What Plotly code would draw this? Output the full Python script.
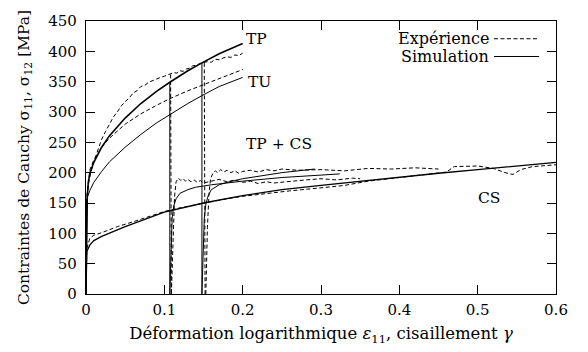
import plotly.graph_objects as go

# ---- tension (TP), uniaxial tension (TU), shear (CS) and tension+shear (TP+CS) ----
tp_exp_x = [0, 0.001, 0.003, 0.006, 0.01, 0.015, 0.02, 0.025, 0.03, 0.035, 0.04, 0.045,
            0.05, 0.055, 0.06, 0.065, 0.07, 0.075, 0.08, 0.085, 0.09, 0.095, 0.1, 0.104,
            0.108, 0.112, 0.116, 0.12, 0.124, 0.128, 0.132, 0.136, 0.14, 0.144, 0.148,
            0.155, 0.16, 0.165, 0.17, 0.175, 0.18, 0.185, 0.19, 0.195, 0.2]
tp_exp_y = [0, 150, 180, 200, 218, 238, 255, 268, 280, 292, 300, 310,
            317, 323, 331, 335, 342, 344, 349, 352, 354, 357, 359, 361,
            362, 365, 364, 368, 367, 371, 372, 376, 377, 379, 381,
            383, 382, 387, 386, 389, 391, 390, 394, 393, 397]

tp_sim_x = [0, 0.001, 0.003, 0.005, 0.01, 0.02, 0.03, 0.05, 0.07, 0.09, 0.107, 0.13,
            0.148, 0.17, 0.2]
tp_sim_y = [0, 150, 185, 199, 217, 242, 261, 290, 314, 334, 349, 368,
            381, 396, 413]

tu_exp_x = [0, 0.001, 0.005, 0.01, 0.02, 0.03, 0.05, 0.07, 0.09, 0.107, 0.13, 0.148,
            0.17, 0.2]
tu_exp_y = [0, 160, 205, 221, 242, 257, 280, 297, 311, 322, 335, 344,
            354, 370]

tu_sim_x = [0, 0.001, 0.002, 0.005, 0.01, 0.02, 0.03, 0.05, 0.07, 0.09, 0.107, 0.13,
            0.148, 0.17, 0.2]
tu_sim_y = [0, 145, 160, 171, 184, 202, 218, 242, 263, 282, 296, 314,
            327, 342, 357]

# unloading after the two tensile prestrains
unload_exp_x = [[0.108, 0.109], [0.151, 0.152]]
unload_exp_y = [[362, 0], [381, 0]]
unload_sim_x = [[0.107, 0.107], [0.148, 0.148]]
unload_sim_y = [[349, 0], [381, 0]]

# shear after prestrain (TP+CS)
tpcs1_exp_x = [0.109, 0.111, 0.113, 0.115, 0.118, 0.121, 0.124, 0.127, 0.13, 0.134, 0.138,
               0.142, 0.146, 0.15, 0.16, 0.17, 0.18, 0.19, 0.2, 0.21, 0.22, 0.23, 0.24,
               0.26, 0.28, 0.3, 0.32, 0.34, 0.35]
tpcs1_exp_y = [0, 100, 160, 185, 191, 187, 190, 186, 189, 185, 188,
               184, 187, 183, 186, 189, 185, 188, 184, 186, 182, 185, 183,
               186, 188, 190, 188, 191, 190]

tpcs2_exp_x = [0.153, 0.155, 0.157, 0.159, 0.162, 0.165, 0.168, 0.172, 0.176, 0.18, 0.185,
               0.19, 0.195, 0.2, 0.21, 0.22, 0.23, 0.24, 0.25, 0.27, 0.3, 0.33, 0.36,
               0.39, 0.42, 0.45]
tpcs2_exp_y = [0, 110, 165, 190, 199, 203, 200, 205, 201, 204, 200,
               203, 199, 202, 204, 201, 205, 203, 206, 204, 205, 203, 207,
               206, 208, 206]

tpcs1_sim_x = [0.107, 0.108, 0.109, 0.11, 0.112, 0.115, 0.12, 0.13, 0.14, 0.16, 0.2,
               0.25, 0.3, 0.324]
tpcs1_sim_y = [0, 60, 100, 125, 145, 157, 166, 172, 176, 180, 186,
               192, 196, 198]

tpcs2_sim_x = [0.148, 0.149, 0.15, 0.151, 0.153, 0.156, 0.16, 0.17, 0.18, 0.2, 0.25,
               0.292]
tpcs2_sim_y = [0, 60, 100, 125, 148, 162, 172, 180, 184, 190, 200,
               206]

# pure shear (CS)
cs_exp_x = [0, 0.001, 0.005, 0.01, 0.02, 0.04, 0.06, 0.08, 0.1, 0.12, 0.15, 0.18, 0.2,
            0.23, 0.26, 0.3, 0.33, 0.36, 0.4, 0.43, 0.46, 0.47, 0.5, 0.52, 0.535, 0.545,
            0.555, 0.57, 0.6]
cs_exp_y = [0, 75, 92, 97, 101, 111, 119, 128, 136, 142, 150, 157, 161,
            166, 170, 175, 179, 186, 192, 196, 201, 210, 211, 207, 200, 197,
            205, 210, 213]

cs_sim_x = [0, 0.001, 0.005, 0.01, 0.02, 0.05, 0.1, 0.15, 0.2, 0.25, 0.3, 0.35, 0.4,
            0.45, 0.5, 0.55, 0.6]
cs_sim_y = [0, 70, 81, 88, 95, 111, 135, 150, 162, 172, 179, 186, 192,
            199, 205, 211, 217]

# curve labels
label_text = ["TP", "TU", "TP + CS", "CS"]
label_x = [0.218, 0.221, 0.246, 0.515]
label_y = [420, 349, 248, 158]

x_ticks = [0, 0.1, 0.2, 0.3, 0.4, 0.5, 0.6]
x_tick_text = ["0", "0.1", "0.2", "0.3", "0.4", "0.5", "0.6"]
y_ticks = list(range(0, 451, 50))

FONT = "DejaVu Serif"
DASH = "4px,2.5px"

fig = go.Figure()


def add(x, y, dashed, width=1.0):
    fig.add_trace(go.Scatter(
        x=x, y=y, mode="lines", showlegend=False, hoverinfo="skip",
        line=dict(color="black", width=width, dash=DASH if dashed else "solid"),
    ))


add(cs_exp_x, cs_exp_y, True)
add(cs_sim_x, cs_sim_y, False, 1.3)
add(tpcs1_exp_x, tpcs1_exp_y, True)
add(tpcs2_exp_x, tpcs2_exp_y, True)
add(tpcs1_sim_x, tpcs1_sim_y, False)
add(tpcs2_sim_x, tpcs2_sim_y, False)
for ux, uy in zip(unload_exp_x, unload_exp_y):
    add(ux, uy, True)
for ux, uy in zip(unload_sim_x, unload_sim_y):
    add(ux, uy, False)
add(tu_exp_x, tu_exp_y, True)
add(tu_sim_x, tu_sim_y, False)
add(tp_exp_x, tp_exp_y, True)
add(tp_sim_x, tp_sim_y, False, 1.6)

for t, lx, ly in zip(label_text, label_x, label_y):
    fig.add_annotation(x=lx, y=ly, text=t, showarrow=False, xanchor="center",
                       yanchor="middle", font=dict(family=FONT, size=15.5, color="black"))

# legend block (text to the left of its line sample)
legend_rows = [("Expérience", True, 0.935), ("Simulation", False, 0.87)]
for name, dashed, yy in legend_rows:
    fig.add_annotation(x=0.861, y=yy, xref="paper", yref="paper", text=name,
                       showarrow=False, xanchor="right", yanchor="middle",
                       font=dict(family=FONT, size=16, color="black"))
    fig.add_shape(type="line", xref="paper", yref="paper", x0=0.868, x1=0.964,
                  y0=yy, y1=yy,
                  line=dict(color="black", width=1, dash=DASH if dashed else "solid"))

axis_common = dict(
    showgrid=False, zeroline=False, showline=True, linecolor="black", linewidth=1.4,
    mirror="ticks", ticks="inside", ticklen=9, tickwidth=1, tickcolor="black",
    tickfont=dict(family=FONT, size=15, color="black"),
)

fig.update_xaxes(range=[0, 0.6], tickvals=x_ticks, ticktext=x_tick_text,
                 ticklabelstandoff=2,
                 title=dict(text="Déformation logarithmique <i>ε</i><sub>11</sub>, cisaillement <i>γ</i>",
                            font=dict(family=FONT, size=16.5, color="black"), standoff=9),
                 **axis_common)
fig.update_yaxes(range=[0, 450], tickvals=y_ticks,
                 ticklabelstandoff=5,
                 title=dict(text="Contraintes de Cauchy σ<sub>11</sub>, σ<sub>12</sub> [MPa]",
                            font=dict(family=FONT, size=15.5, color="black"), standoff=14),
                 **axis_common)

fig.update_layout(
    width=588, height=352,
    margin=dict(l=86, r=32, t=19, b=57),
    paper_bgcolor="white", plot_bgcolor="white",
)

fig.write_html("out.html")
